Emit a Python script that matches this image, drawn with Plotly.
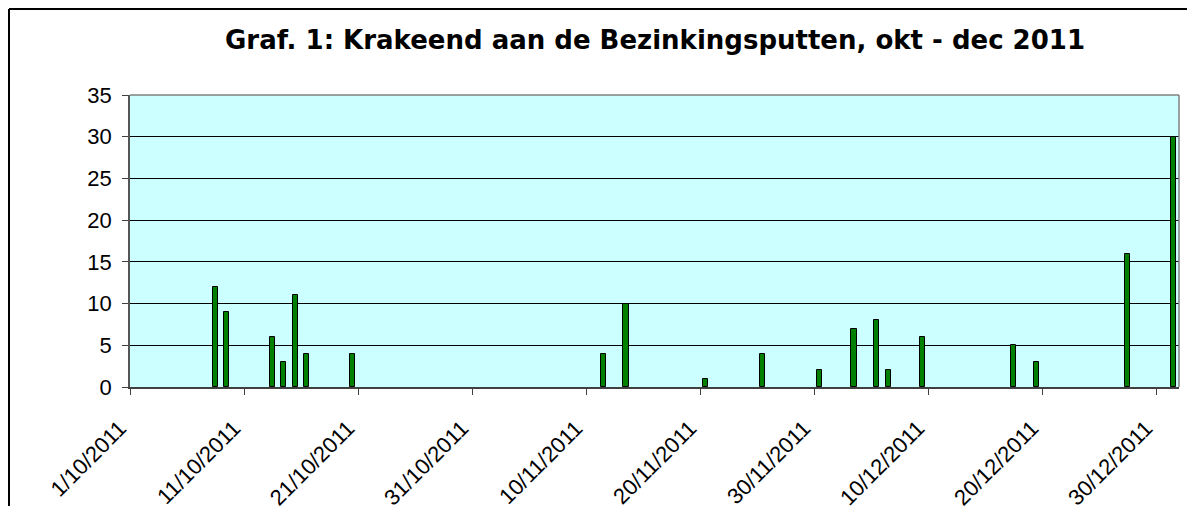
import pandas as pd
import plotly.graph_objects as go

# Data
dates = ["2011-10-08", "2011-10-09", "2011-10-13", "2011-10-14", "2011-10-15",
         "2011-10-16", "2011-10-20", "2011-11-11", "2011-11-13", "2011-11-20",
         "2011-11-25", "2011-11-30", "2011-12-03", "2011-12-05", "2011-12-06",
         "2011-12-09", "2011-12-17", "2011-12-19", "2011-12-27", "2011-12-31"]
counts = [12, 9, 6, 3, 11, 4, 4, 4, 10, 1, 4, 2, 7, 8, 2, 6, 5, 3, 16, 30]

title_text = "Graf. 1: Krakeend aan de Bezinkingsputten, okt - dec 2011"
y_ticks = [0, 5, 10, 15, 20, 25, 30, 35]

# page body has an 8px margin, so the figure is drawn 8px right/down
OFF = 8
W, H = 1195 - OFF, 506 - OFF
ML, MT = 130 - OFF, 95 - OFF
MR = W - (1179 - OFF)
MB = H - (387 - OFF)

# Excel date axis: each day is a slot, bar centred in the slot
x_centres = pd.to_datetime(dates) + pd.Timedelta(hours=12)

fig = go.Figure()
fig.add_trace(go.Bar(
    x=x_centres, y=counts,
    width=0.45 * 86400000,
    marker=dict(color="#008000", line=dict(color="#000000", width=1)),
    showlegend=False,
))

pw = W - ML - MR
ph = H - MT - MB

def fig_to_paper_x(fx):
    return (fx - ML) / pw

def fig_to_paper_y(fy):
    return (H - MB - fy) / ph

# outer chart border (top and left visible), drawn at the figure's edge
fig.add_shape(type="line", xref="paper", yref="paper",
              x0=fig_to_paper_x(1), x1=fig_to_paper_x(W + 10),
              y0=fig_to_paper_y(1), y1=fig_to_paper_y(1),
              line=dict(color="#000000", width=2), layer="above")
fig.add_shape(type="line", xref="paper", yref="paper",
              x0=fig_to_paper_x(1), x1=fig_to_paper_x(1),
              y0=fig_to_paper_y(1), y1=fig_to_paper_y(H + 10),
              line=dict(color="#000000", width=2), layer="above")
# plot-area border (top & right grey)
fig.add_shape(type="line", xref="paper", yref="paper",
              x0=0, x1=1, y0=1, y1=1,
              line=dict(color="#808080", width=1.5), layer="above")
fig.add_shape(type="line", xref="paper", yref="paper",
              x0=1, x1=1, y0=0, y1=1,
              line=dict(color="#808080", width=1.5), layer="above")

fig.update_layout(
    width=W, height=H,
    margin=dict(l=ML, r=MR, t=MT, b=MB, autoexpand=False),
    paper_bgcolor="#FFFFFF",
    plot_bgcolor="#CCFFFF",
    bargap=0,
    title=dict(text="<b>" + title_text + "</b>",
               x=(655 - OFF) / W, xref="container", xanchor="center",
               y=1 - (40 - OFF) / H, yref="container", yanchor="middle",
               font=dict(family="DejaVu Sans", size=26, color="#000000")),
    font=dict(family="Liberation Sans, Arial", size=22, color="#000000"),
)

fig.update_xaxes(
    type="date",
    range=["2011-10-01", "2012-01-01"],
    tick0="2011-10-01", dtick=10 * 86400000,
    tickformat="%-d/%m/%Y",
    tickangle=-45,
    ticks="outside", ticklen=6, tickcolor="#404040", tickwidth=1,
    ticklabelstandoff=12, ticklabelshift=-10,
    showline=True, linecolor="#404040", linewidth=1.5,
    showgrid=False, zeroline=False,
    automargin=False,
    tickfont=dict(family="Liberation Sans, Arial", size=22, color="#000000"),
)
fig.update_yaxes(
    range=[0, 35],
    tickvals=y_ticks,
    ticks="outside", ticklen=6, tickcolor="#404040", tickwidth=1,
    ticklabelstandoff=6,
    showline=True, linecolor="#555555", linewidth=1.5,
    showgrid=True, gridcolor="#000000", gridwidth=1,
    zeroline=False,
    automargin=False,
    tickfont=dict(family="Liberation Sans, Arial", size=22, color="#000000"),
)

fig.write_html("out.html")
